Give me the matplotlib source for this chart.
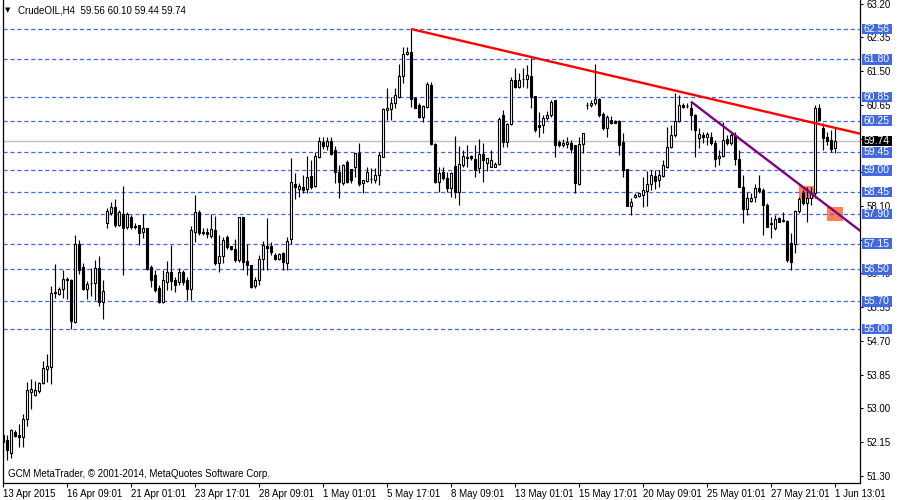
import matplotlib
matplotlib.use('Agg')
import matplotlib.pyplot as plt
from matplotlib.patches import Rectangle

plt.rcParams['font.family'] = ['Liberation Sans', 'DejaVu Sans']
plt.rcParams['lines.scale_dashes'] = False

# ---------------- data (CrudeOIL H4) ----------------
opens = [
    52.33, 52.20, 51.88, 52.41, 52.32, 52.27, 52.72, 53.42, 53.34, 53.45,
    53.63, 53.98, 54.05, 55.90, 55.88, 56.00, 56.26, 56.23, 55.18, 57.14,
    56.56, 56.01, 56.15, 56.15, 56.53, 55.69, 57.66, 57.93, 58.08, 57.62,
    57.91, 57.56, 57.83, 57.60, 57.62, 57.45, 57.54, 56.55, 56.36, 56.03,
    55.69, 56.19, 56.44, 56.23, 56.19, 56.44, 56.23, 56.00, 57.45, 57.96,
    57.45, 57.44, 57.34, 57.49, 56.67, 56.84, 57.33, 57.09, 57.01, 56.74,
    57.81, 56.71, 56.61, 56.09, 56.23, 56.76, 57.09, 57.09, 56.86, 56.76,
    56.91, 56.66, 57.26, 58.65, 58.54, 58.59, 58.54, 58.86, 58.61, 59.34,
    59.70, 59.61, 59.74, 59.51, 58.96, 58.67, 59.20, 59.02, 59.09, 59.44,
    58.67, 58.73, 58.77, 58.75, 58.88, 59.34, 60.52, 60.54, 60.69, 60.84,
    61.38, 61.92, 61.99, 60.81, 60.64, 60.35, 60.59, 61.15, 59.66, 58.71,
    58.96, 58.80, 58.55, 59.11, 58.46, 59.13, 59.30, 59.36, 59.28, 59.05,
    59.41, 59.19, 59.09, 59.09, 59.16, 60.39, 59.72, 60.17, 61.27, 61.11,
    61.29, 61.29, 61.38, 60.87, 60.14, 60.14, 60.31, 60.39, 60.77, 59.72,
    59.64, 59.66, 59.69, 59.64, 58.65, 59.66, 60.64, 60.64, 60.69, 60.79,
    60.43, 60.06, 60.27, 60.25, 60.25, 59.72, 59.02, 58.10, 58.32, 58.35,
    58.38, 58.48, 58.65, 58.86, 58.75, 58.86, 59.09, 59.59, 59.89, 60.25,
    60.64, 60.62, 60.58, 60.39, 59.82, 59.89, 59.85, 59.85, 59.68, 59.30,
    59.37, 59.79, 59.68, 59.89, 59.28, 58.59, 58.02, 58.23, 58.32, 58.55,
    58.50, 58.12, 57.66, 57.55, 57.79, 57.72, 57.72, 57.17, 57.13, 57.97,
    58.42, 58.17, 58.29, 58.42, 60.58, 60.07, 59.85, 59.76, 59.56]

highs = [
    52.41, 52.33, 52.47, 52.45, 52.61, 52.87, 53.67, 53.73, 53.69, 53.67,
    54.19, 54.37, 56.08, 56.63, 56.07, 56.49, 56.30, 56.26, 57.37, 57.24,
    56.66, 56.22, 56.55, 56.74, 56.84, 56.23, 58.04, 58.19, 58.27, 58.00,
    58.60, 57.95, 57.87, 57.67, 57.62, 57.91, 57.55, 56.61, 56.49, 56.11,
    56.49, 56.71, 57.12, 56.31, 56.54, 56.49, 56.31, 57.60, 58.38, 58.00,
    57.55, 57.55, 57.90, 57.85, 57.37, 57.33, 57.37, 57.09, 57.26, 57.83,
    57.82, 57.14, 56.61, 56.32, 56.86, 57.22, 57.79, 57.20, 56.92, 56.92,
    56.95, 57.33, 59.30, 58.92, 58.68, 58.88, 59.36, 59.26, 59.47, 59.83,
    59.83, 59.83, 59.83, 59.61, 59.13, 59.16, 59.26, 59.02, 59.44, 59.68,
    58.75, 59.09, 59.05, 59.05, 59.47, 60.56, 61.07, 60.85, 61.07, 61.69,
    62.11, 62.11, 62.56, 60.85, 60.69, 60.64, 61.23, 61.23, 59.68, 59.09,
    59.09, 58.96, 58.96, 59.86, 59.61, 59.51, 59.64, 59.38, 59.64, 59.80,
    59.68, 59.30, 59.51, 59.22, 60.35, 60.52, 60.18, 61.36, 61.57, 61.44,
    61.57, 61.65, 61.82, 60.87, 60.48, 60.39, 60.50, 60.77, 60.77, 59.76,
    59.80, 59.83, 59.76, 59.64, 59.85, 59.93, 60.73, 60.77, 61.69, 60.81,
    60.48, 60.39, 60.37, 60.27, 60.27, 59.93, 59.02, 58.29, 58.43, 58.43,
    58.84, 58.99, 59.01, 59.01, 59.01, 59.26, 60.10, 60.14, 60.94, 60.90,
    60.69, 60.69, 60.73, 60.43, 60.06, 59.96, 59.97, 59.97, 59.76, 59.51,
    60.22, 59.89, 59.93, 59.97, 59.51, 58.88, 58.45, 58.42, 58.65, 58.88,
    58.55, 58.18, 57.83, 57.87, 57.83, 57.95, 57.75, 57.42, 58.00, 58.33,
    58.50, 58.59, 58.59, 60.64, 60.67, 60.20, 59.97, 60.01, 60.10]

lows = [
    51.74, 51.70, 51.74, 52.29, 52.02, 52.03, 52.56, 52.98, 53.31, 53.39,
    53.61, 53.67, 53.61, 55.77, 55.86, 55.77, 55.75, 55.00, 55.16, 56.38,
    55.98, 55.75, 55.83, 55.73, 55.58, 55.24, 57.54, 57.87, 57.56, 57.60,
    56.36, 57.52, 57.52, 57.52, 57.12, 57.29, 56.49, 56.06, 55.93, 55.65,
    55.65, 55.98, 55.98, 55.93, 56.11, 56.11, 55.73, 55.73, 57.20, 57.37,
    57.37, 57.29, 57.29, 56.61, 56.44, 56.66, 57.02, 56.99, 56.70, 56.69,
    56.49, 56.36, 56.03, 56.03, 56.11, 56.49, 56.49, 56.86, 56.74, 56.74,
    56.49, 56.49, 57.14, 58.27, 58.33, 58.43, 58.42, 58.54, 58.59, 59.30,
    59.53, 59.51, 59.38, 58.67, 58.29, 58.63, 58.67, 58.67, 58.84, 58.61,
    58.43, 58.71, 58.67, 58.67, 58.63, 59.33, 60.27, 60.27, 60.56, 60.81,
    61.19, 61.90, 60.59, 60.56, 60.31, 60.22, 60.56, 59.64, 58.67, 58.46,
    58.75, 58.46, 58.33, 58.29, 58.12, 59.09, 59.09, 59.26, 58.84, 58.92,
    58.71, 58.99, 59.09, 59.09, 59.13, 59.59, 59.59, 60.14, 61.07, 61.07,
    61.11, 61.07, 60.56, 59.97, 59.83, 59.93, 60.27, 60.35, 59.34, 59.59,
    59.59, 59.55, 59.43, 58.42, 58.63, 59.43, 60.54, 60.59, 60.64, 60.35,
    60.01, 59.85, 60.17, 60.18, 59.38, 58.84, 58.10, 57.87, 58.29, 58.33,
    58.07, 58.10, 58.50, 58.54, 58.59, 58.84, 59.05, 59.55, 59.85, 60.22,
    60.56, 60.56, 60.01, 59.34, 59.55, 59.68, 59.64, 59.64, 59.07, 59.13,
    59.34, 59.64, 59.64, 59.13, 58.59, 57.66, 57.87, 58.21, 58.21, 58.42,
    57.37, 57.58, 57.29, 57.49, 57.69, 57.70, 56.69, 56.49, 56.91, 57.92,
    58.12, 57.70, 58.12, 58.30, 60.27, 59.51, 59.64, 59.47, 59.44]

closes = [
    52.16, 51.95, 52.45, 52.31, 52.29, 52.72, 53.46, 53.49, 53.46, 53.63,
    54.01, 54.08, 55.90, 55.94, 56.01, 56.26, 56.23, 55.21, 57.14, 56.49,
    56.00, 56.13, 56.17, 56.53, 55.67, 55.95, 57.97, 58.08, 57.62, 57.96,
    57.54, 57.91, 57.58, 57.58, 57.41, 57.54, 56.51, 56.23, 55.98, 55.67,
    56.23, 56.44, 56.21, 56.11, 56.44, 56.19, 56.00, 57.49, 57.96, 57.42,
    57.41, 57.39, 57.51, 56.67, 56.84, 57.24, 57.06, 57.01, 56.74, 57.81,
    56.70, 56.61, 56.07, 56.23, 56.76, 57.12, 57.05, 56.95, 56.76, 56.89,
    56.70, 57.22, 58.70, 58.59, 58.60, 58.50, 58.84, 58.59, 59.36, 59.74,
    59.61, 59.74, 59.41, 58.96, 58.71, 59.13, 58.71, 58.75, 59.44, 58.65,
    58.75, 58.96, 58.78, 58.88, 59.38, 60.54, 60.56, 60.70, 60.90, 61.38,
    61.93, 61.99, 60.79, 60.56, 60.35, 60.62, 61.17, 59.66, 58.71, 58.94,
    58.80, 58.55, 58.92, 58.46, 59.15, 59.36, 59.34, 59.30, 59.01, 59.41,
    59.26, 59.30, 59.26, 59.16, 60.28, 59.72, 60.17, 61.27, 61.11, 61.27,
    61.30, 61.40, 60.85, 60.01, 60.10, 60.31, 60.39, 60.73, 59.64, 59.64,
    59.69, 59.72, 59.53, 58.67, 59.66, 59.93, 60.65, 60.70, 60.79, 60.39,
    60.06, 60.33, 60.18, 60.18, 59.64, 59.01, 58.10, 58.21, 58.38, 58.42,
    58.50, 58.65, 58.88, 58.74, 58.88, 59.13, 59.59, 59.89, 60.25, 60.64,
    60.60, 60.62, 60.39, 60.01, 59.91, 59.83, 59.91, 59.68, 59.28, 59.37,
    59.76, 59.68, 59.89, 59.28, 58.59, 58.02, 58.31, 58.29, 58.55, 58.48,
    58.12, 57.58, 57.64, 57.77, 57.70, 57.75, 56.74, 56.70, 57.97, 58.28,
    58.17, 58.31, 58.42, 60.58, 60.27, 59.82, 59.74, 59.54, 59.74]

time_tick_bars = [0, 16, 32, 48, 64, 80, 96, 112, 128, 144, 160, 176, 192, 208]
time_tick_labels = ["13 Apr 2015", "16 Apr 09:01", "21 Apr 01:01", "23 Apr 17:01",
                    "28 Apr 09:01", "1 May 01:01", "5 May 17:01", "8 May 09:01",
                    "13 May 01:01", "15 May 17:01", "20 May 09:01", "25 May 01:01",
                    "27 May 21:01", "1 Jun 13:01"]
price_ticks = [51.30, 52.15, 53.00, 53.85, 54.70, 55.55, 56.40, 57.25,
               58.10, 58.95, 59.80, 60.65, 61.50, 62.35, 63.20]
# tick labels fully covered by the level boxes in the reference
covered_ticks = [57.25, 58.95, 59.80]
level_prices = [62.56, 61.80, 60.85, 60.25, 59.45, 59.00, 58.45, 57.90,
                57.15, 56.50, 55.70, 55.00]
bid_price = 59.74

red_line_bars = [102, 208]
red_line_prices = [62.56, 60.07]
purple_line_bars = [172, 208]
purple_line_prices = [60.73, 57.96]

zone_bars = [(199.0, 202.8), (206.0, 210.0)]
zone_prices = [(58.27, 58.60), (57.72, 58.07)]

header = "CrudeOIL,H4  59.56 60.10 59.44 59.74"
footer = "GCM MetaTrader, \u00a9 2001-2014, MetaQuotes Software Corp."

# ---------------- figure ----------------
W, H = 900, 500
fig = plt.figure(figsize=(9, 5), dpi=100)
ax_left, ax_right, ax_top, ax_bottom = 2.5, 860.0, 0.0, 482.5
ax = fig.add_axes([ax_left / W, (H - ax_bottom) / H,
                   (ax_right - ax_left) / W, (ax_bottom - ax_top) / H])
ax.set_facecolor('white')
xmin, xmax = -0.125, 214.25
ymin, ymax = 51.132, 63.291
ax.set_xlim(xmin, xmax)
ax.set_ylim(ymin, ymax)

BLUE = '#4169E1'
for p in level_prices:
    ax.axhline(p, color=BLUE, lw=0.9, ls=(0, (3.0, 2.0)), zorder=2)
ax.axhline(bid_price, color='#C0C0C0', lw=1.0, zorder=2)

for (b0, b1), (p0, p1) in zip(zone_bars, zone_prices):
    ax.add_patch(Rectangle((b0, p0), b1 - b0, p1 - p0, facecolor='#FF8055',
                           edgecolor='none', zorder=1.5, clip_on=True))

# candles
xs = list(range(len(closes)))
lo = [min(l, o, c) for l, o, c in zip(lows, opens, closes)]
hi = [max(h, o, c) for h, o, c in zip(highs, opens, closes)]
ax.vlines(xs, lo, hi, color='black', lw=0.85, zorder=3)
bottoms = [min(o, c) for o, c in zip(opens, closes)]
heights = [max(abs(c - o), 0.008) for o, c in zip(opens, closes)]
colors = ['white' if c >= o else 'black' for o, c in zip(opens, closes)]
ax.bar(xs, heights, bottom=bottoms, width=0.55, color=colors,
       edgecolor='black', linewidth=0.8, zorder=4)

def ray(bars, prices, color):
    slope = (prices[1] - prices[0]) / (bars[1] - bars[0])
    xe = xmax + 1
    ye = prices[0] + slope * (xe - bars[0])
    ax.plot([bars[0], xe], [prices[0], ye], color=color, lw=1.7,
            solid_capstyle='butt', zorder=5)

ray(red_line_bars, red_line_prices, '#FF0000')
ray(purple_line_bars, purple_line_prices, '#800080')

for s in ['left', 'right', 'bottom']:
    ax.spines[s].set_color('black')
    ax.spines[s].set_linewidth(0.9)
ax.spines['top'].set_visible(False)

ax.yaxis.tick_right()
ax.set_yticks(price_ticks)
ax.set_yticklabels(["" if any(abs(v - c) < 1e-6 for c in covered_ticks)
                    else f"{v:.2f}" for v in price_ticks])
ax.tick_params(axis='y', direction='out', length=2.5, width=0.8, pad=2.5,
               labelsize=7, colors='black')

ax.set_xticks(time_tick_bars)
ax.set_xticklabels(time_tick_labels)
ax.tick_params(axis='x', direction='out', length=3, width=0.8, pad=1.5,
               labelsize=7, colors='black')
for lbl in ax.get_xticklabels():
    lbl.set_horizontalalignment('left')

# price label boxes on the right axis
trans = ax.get_yaxis_transform()
axw = ax_right - ax_left
bx0 = 1.0 + 2.0 / axw
bw = 30.0 / axw
half = 0.135
for p in level_prices:
    ax.add_patch(Rectangle((bx0, p - half), bw, 2 * half, transform=trans,
                           facecolor=BLUE, edgecolor='none', clip_on=False, zorder=10))
    ax.text(bx0 + bw / 2, p, f"{p:.2f}", transform=trans, ha='center', va='center',
            fontsize=7.5, color='white', clip_on=False, zorder=11)
ax.add_patch(Rectangle((bx0, bid_price - half), bw, 2 * half, transform=trans,
                       facecolor='black', edgecolor='none', clip_on=False, zorder=10))
ax.text(bx0 + bw / 2, bid_price, f"{bid_price:.2f}", transform=trans, ha='center',
        va='center', fontsize=7.5, color='white', clip_on=False, zorder=11)

fig.text(5.0 / W, 1 - 10.5 / H, "\u25bc", fontsize=5, family='DejaVu Sans',
         va='center', ha='left', color='black')
fig.text(18.5 / W, 1 - 10.5 / H, header, fontsize=7, va='center', ha='left',
         color='black')
fig.text(7.5 / W, 1 - 474.0 / H, footer, fontsize=7, va='center', ha='left',
         color='black')

fig.savefig('out.png', dpi=100, facecolor='white')
